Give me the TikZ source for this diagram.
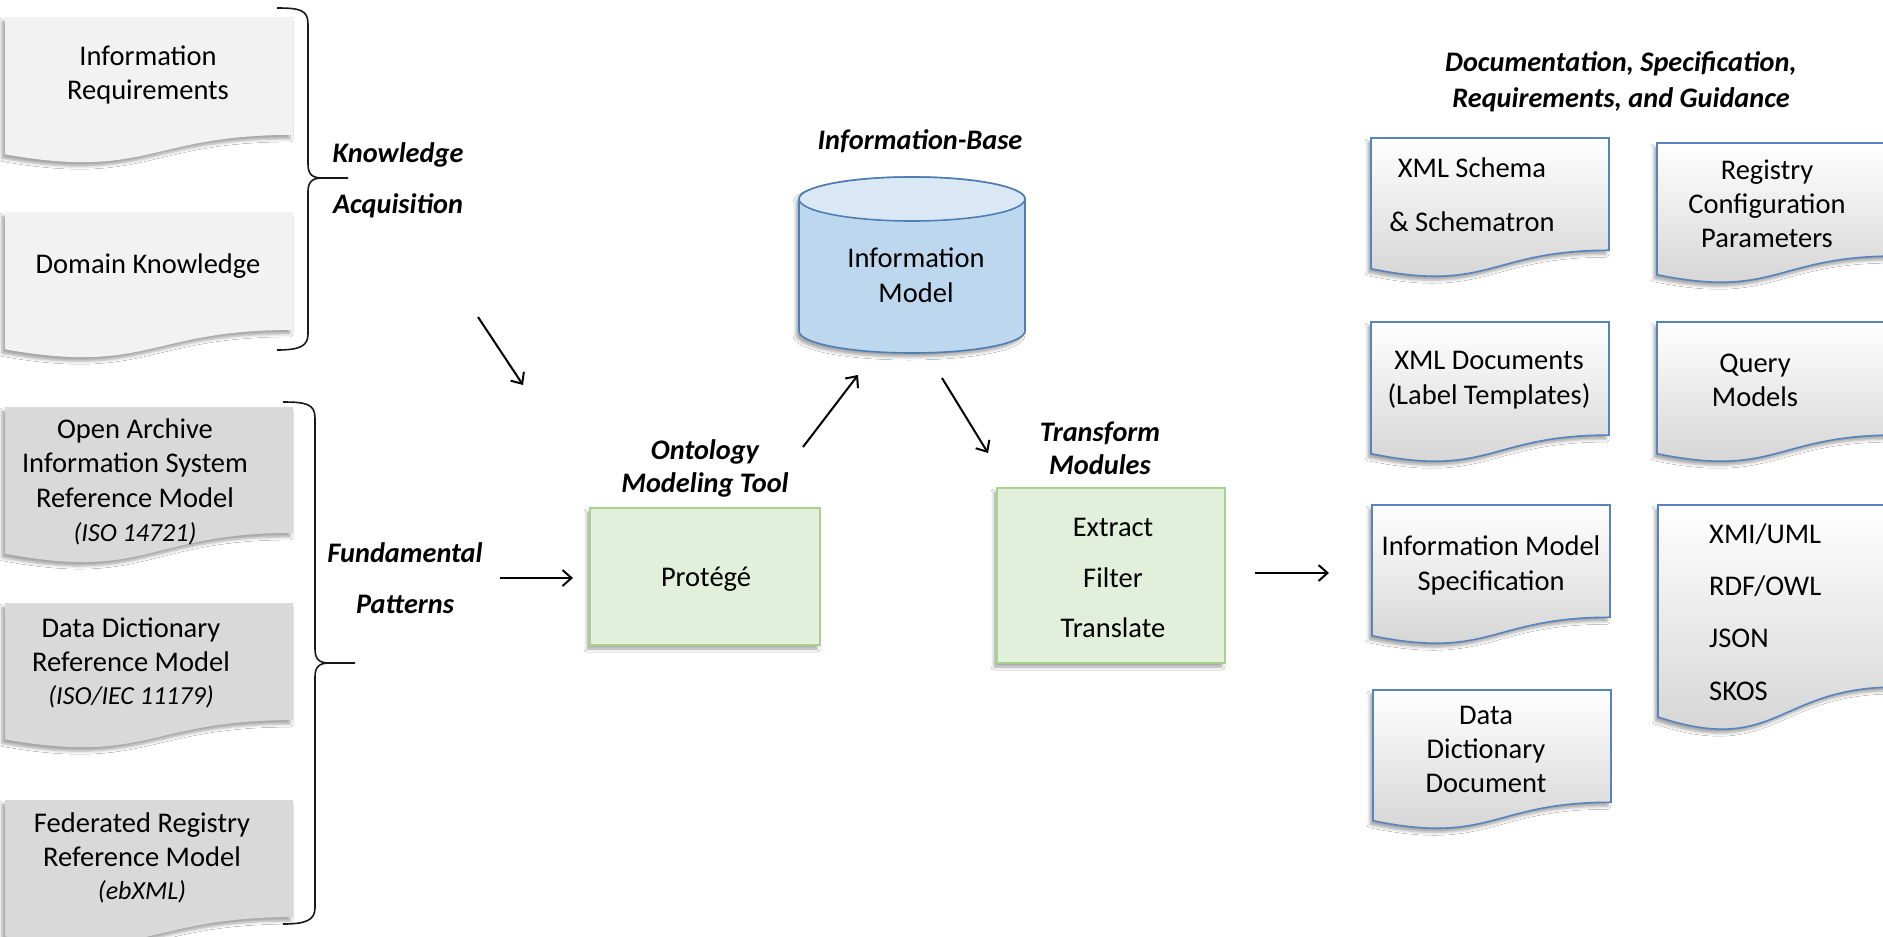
\documentclass[tikz,border=0pt]{standalone}
\usepackage{fontspec}
\setmainfont{Carlito}
\usetikzlibrary{arrows.meta,shadows.blur}
\definecolor{docgrayA}{HTML}{F2F2F2}
\definecolor{docgrayB}{HTML}{D9D9D9}
\definecolor{docblue}{HTML}{5584BE}
\definecolor{greenfill}{HTML}{E2EFDA}
\definecolor{greenline}{HTML}{A9D18E}
\definecolor{cylfill}{HTML}{BDD7EE}
\definecolor{cyltop}{HTML}{DAE8F5}
\definecolor{cylline}{HTML}{4F7EB3}

% document shape: style, x0, y0, width, height
\newcommand{\docshape}[5]{%
  \path[#1] (#2,#3) -- ({#2+#4},#3) -- ({#2+#4},{#3+0.802*#5})
    .. controls ({#2+#4/2},{#3+0.802*#5}) and ({#2+#4/2},{#3+1.108*#5}) .. (#2,{#3+0.934*#5}) -- cycle;}

\tikzset{
  softshadow/.style={blur shadow={shadow xshift=-3pt,shadow yshift=-4pt,shadow blur radius=3pt,shadow opacity=35}},
  leftdocA/.style={fill=docgrayA, softshadow},
  leftdocB/.style={fill=docgrayB, softshadow},
  rightdoc/.style={draw=docblue, line width=1.6pt, top color=white, bottom color=black!18, softshadow},
  greenbox/.style={draw=greenline, line width=1.6pt, fill=greenfill, softshadow},
  doctext/.style={font=\fontsize{28.5}{34}\selectfont, align=center, inner sep=0pt},
  midtext/.style={font=\fontsize{28.5}{35}\selectfont, align=center, inner sep=0pt},
  biglabel/.style={font=\fontsize{28.3}{51}\selectfont\bfseries\itshape, align=center, inner sep=0pt},
  midlabel/.style={font=\fontsize{28.3}{33}\selectfont\bfseries\itshape, align=center, inner sep=0pt},
  bracestroke/.style={draw=black!90, line width=1.6pt},
  flow/.style={draw=black, line width=2pt, -{Straight Barb[length=9pt,width=16pt,line width=2pt]}},
}

\begin{document}
\begin{tikzpicture}[x=1pt,y=-1pt]
\clip (0,0) rectangle (1883,937);
\fill[white] (0,0) rectangle (1883,937);

% ---------- left documents ----------
\docshape{leftdocA}{5}{17}{288}{147}
\docshape{leftdocA}{5}{212}{288}{147}
\docshape{leftdocB}{5}{407}{288}{157}
\docshape{leftdocB}{5}{603}{288}{146}
\docshape{leftdocB}{5}{800}{288}{146}

\node[doctext] (inforeq) at (148,75) {Information\\Requirements};
\node[doctext] (domain) at (148,266) {Domain Knowledge};
\node[doctext, font=\fontsize{28.5}{34.5}\selectfont] (oais) at (135,482) {Open Archive\\Information System\\Reference Model\\{\itshape\fontsize{26}{34.5}\selectfont (ISO 14721)}};
\node[doctext, font=\fontsize{28.5}{33.5}\selectfont] (ddrm) at (131,663) {Data Dictionary\\Reference Model\\{\itshape\fontsize{26}{33.5}\selectfont (ISO/IEC 11179)}};
\node[doctext, font=\fontsize{28.5}{33.5}\selectfont] (fedreg) at (142,858) {Federated Registry\\Reference Model\\{\itshape\fontsize{26}{33.5}\selectfont (ebXML)}};

% ---------- braces ----------
\draw[bracestroke] (277,8) .. controls (300,8) and (308,10) .. (308,24) -- (308,164)
   .. controls (308,174) and (312,178) .. (322,178) -- (348,178);
\draw[bracestroke] (322,178) .. controls (312,178) and (308,182) .. (308,192) -- (308,334)
   .. controls (308,346) and (300,350) .. (277,350);
\draw[bracestroke] (283,402) .. controls (306,402) and (315,404) .. (315,418) -- (315,649)
   .. controls (315,659) and (319,663) .. (329,663) -- (355,663);
\draw[bracestroke] (329,663) .. controls (319,663) and (315,667) .. (315,677) -- (315,908)
   .. controls (315,920) and (306,924) .. (283,924);

\node[biglabel] (kacq) at (398,180) {Knowledge\\Acquisition};
\node[biglabel] (fpat) at (405,578) {Fundamental\\Patterns};

% ---------- middle ----------
\path[greenbox] (590,508) rectangle (820,645);
\node[midtext] (protege) at (706,579) {Protégé};
\node[midlabel] (omt) at (705,468) {Ontology\\Modeling Tool};

% cylinder
\path[fill=cylfill, draw=cylline, line width=1.6pt, softshadow]
  (799,199) -- (799,331) .. controls (799,343.2) and (849.6,353) .. (912,353)
  .. controls (974.4,353) and (1025,343.2) .. (1025,331) -- (1025,199)
  .. controls (1025,186.8) and (974.4,177) .. (912,177)
  .. controls (849.6,177) and (799,186.8) .. (799,199) -- cycle;
\path[fill=cyltop, draw=cylline, line width=1.6pt] (912,199) ellipse [x radius=113, y radius=22];
\node[midtext] (infomodel) at (916,275) {Information\\Model};
\node[midlabel] (ibase) at (920,141) {Information-Base};

\path[greenbox] (997,488) rectangle (1225,663);
\node[midtext, font=\fontsize{28.5}{50.5}\selectfont] (transform) at (1113,578) {Extract\\Filter\\Translate};
\node[midlabel] (tmod) at (1100,448) {Transform\\Modules};

% ---------- right documents ----------
\node[font=\fontsize{28.3}{36}\selectfont\bfseries\itshape, align=center, inner sep=0pt] (header) at (1621,82)
  {Documentation, Specification,\\Requirements, and Guidance};

\docshape{rightdoc}{1371}{138}{238}{140}
\docshape{rightdoc}{1657}{143}{238}{141}
\docshape{rightdoc}{1371}{322}{238}{141}
\docshape{rightdoc}{1657}{322}{238}{141}
\docshape{rightdoc}{1372}{505}{238}{140}
\docshape{rightdoc}{1373}{690}{238}{140}
\docshape{rightdoc}{1658}{505}{238}{227}

\node[doctext, font=\fontsize{28.5}{54}\selectfont] (xsd) at (1472,195) {XML Schema\\\& Schematron};
\node[doctext] (regconf) at (1767,204) {Registry\\Configuration\\Parameters};
\node[doctext, font=\fontsize{28.5}{35}\selectfont] (xmldoc) at (1489,380) {XML Documents\\(Label Templates)};
\node[doctext] (query) at (1755,380) {Query\\Models};
\node[doctext, font=\fontsize{28.5}{35}\selectfont] (imspec) at (1491,565) {Information Model\\Specification};
\node[doctext] (dddoc) at (1486,749) {Data\\Dictionary\\Document};
\node[doctext, font=\fontsize{28.5}{52.3}\selectfont, align=left, anchor=west] (formats) at (1709,612) {XMI/UML\\RDF/OWL\\JSON\\SKOS};

% ---------- arrows ----------
\coordinate (a1s) at (478,317); \coordinate (a1e) at (523,385);
\coordinate (a2s) at (500,578); \coordinate (a2e) at (573,578);
\coordinate (a3s) at (803,447); \coordinate (a3e) at (858,375);
\coordinate (a4s) at (942,378); \coordinate (a4e) at (988,453);
\coordinate (a5s) at (1255,573); \coordinate (a5e) at (1329,573);
\draw[flow] (a1s) -- (a1e);
\draw[flow] (a2s) -- (a2e);
\draw[flow] (a3s) -- (a3e);
\draw[flow] (a4s) -- (a4e);
\draw[flow] (a5s) -- (a5e);
\end{tikzpicture}
\end{document}
